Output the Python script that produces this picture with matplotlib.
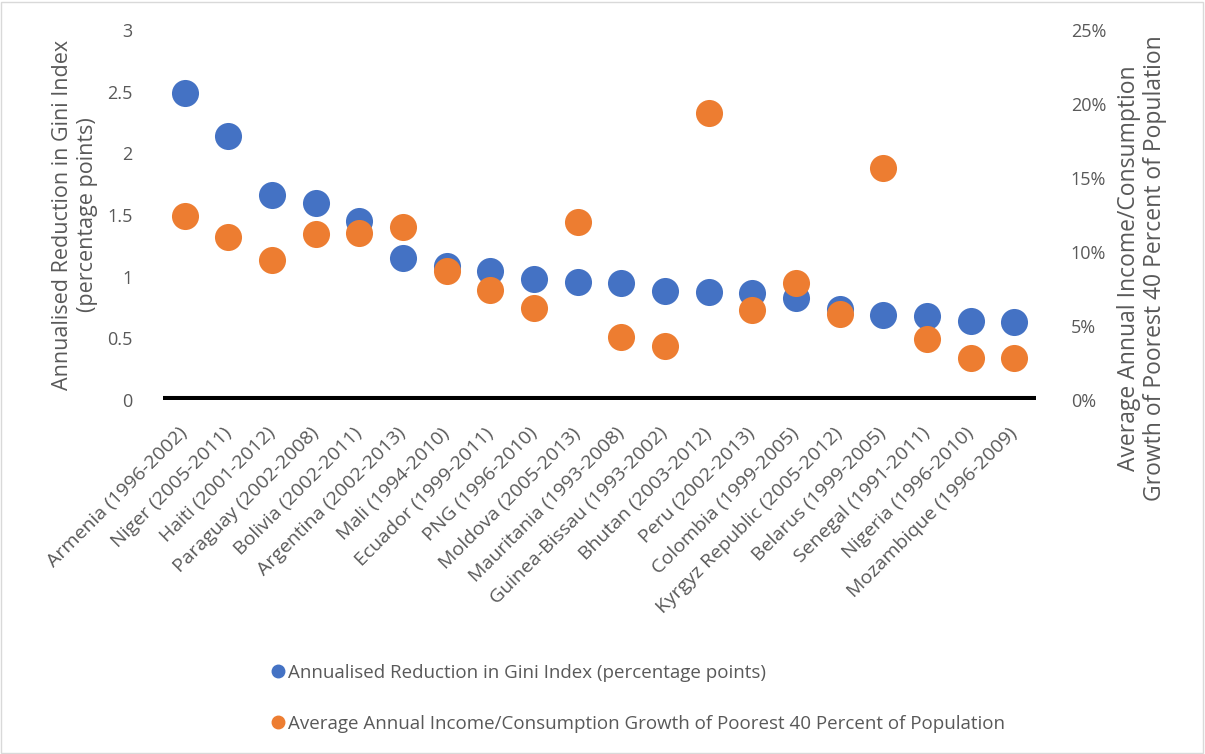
import matplotlib
matplotlib.use("Agg")
import matplotlib.pyplot as plt
from matplotlib.lines import Line2D
from matplotlib.patches import Rectangle

countries = ["Armenia (1996-2002)", "Niger (2005-2011)", "Haiti (2001-2012)",
             "Paraguay (2002-2008)", "Bolivia (2002-2011)", "Argentina (2002-2013)",
             "Mali (1994-2010)", "Ecuador (1999-2011)", "PNG (1996-2010)",
             "Moldova (2005-2013)", "Mauritania (1993-2008)", "Guinea-Bissau (1993-2002)",
             "Bhutan (2003-2012)", "Peru (2002-2013)", "Colombia (1999-2005)",
             "Kyrgyz Republic (2005-2012)", "Belarus (1999-2005)", "Senegal (1991-2011)",
             "Nigeria (1996-2010)", "Mozambique (1996-2009)"]
gini_reduction = [2.49, 2.14, 1.66, 1.60, 1.45, 1.15, 1.09, 1.05, 0.98, 0.955,
                  0.946, 0.884, 0.873, 0.87, 0.825, 0.74, 0.687, 0.68, 0.64, 0.635]
income_growth = [12.45, 11.03, 9.46, 11.2, 11.3, 11.69, 8.69, 7.43, 6.19, 12.05,
                 4.23, 3.65, 19.37, 6.06, 7.93, 5.79, 15.7, 4.12, 2.82, 2.82]
left_ticks = [0, 0.5, 1, 1.5, 2, 2.5, 3]
right_ticks = [0, 5, 10, 15, 20, 25]

label1 = "Annualised Reduction in Gini Index (percentage points)"
label2 = "Average Annual Income/Consumption Growth of Poorest 40 Percent of Population"

blue = "#4472C4"
orange = "#ED7D31"
gray = "#595959"
plt.rcParams['font.family'] = ['Open Sans', 'DejaVu Sans']

W, H = 1205, 754
fig = plt.figure(figsize=(W / 100, H / 100), dpi=100)
ax = fig.add_axes([163 / W, 1 - 400 / H, (1036 - 163) / W, (400 - 30) / H])
ax2 = ax.twinx()

x = list(range(len(countries)))
ax.scatter(x, gini_reduction, s=380, color=blue, zorder=3, linewidths=0)
ax2.scatter(x, income_growth, s=380, color=orange, zorder=3, linewidths=0)
ax.axhline(0, color="black", lw=5.8, zorder=2, solid_capstyle="butt")

ax.set_xlim(-0.5, len(countries) - 0.5)
ax.set_ylim(0, 3)
ax2.set_ylim(0, 25)
ax.set_yticks(left_ticks)
ax.set_yticklabels([f"{t:g}" for t in left_ticks])
ax2.set_yticks(right_ticks)
ax2.set_yticklabels([f"{t}%" for t in right_ticks])

ax.set_xticks(x)
ax.set_xticklabels(countries, rotation=45, ha="right", va="center",
                   rotation_mode="anchor", fontsize=14, color=gray)

for a in (ax, ax2):
    for sp in a.spines.values():
        sp.set_visible(False)
ax.tick_params(axis="y", length=0, pad=22, labelsize=13, labelcolor=gray)
ax2.tick_params(axis="y", length=0, pad=25, labelsize=13, labelcolor=gray)
ax.tick_params(axis="x", length=0, pad=22)

fig.text(75 / W, 1 - 215 / H, "Annualised Reduction in Gini Index\n(percentage points)",
         rotation=90, ha="center", va="center", multialignment="center",
         fontsize=15.5, color=gray, linespacing=1.25)
fig.text(1142 / W, 1 - 268 / H,
         "Average Annual Income/Consumption\nGrowth of Poorest 40 Percent of Population",
         rotation=90, ha="center", va="center", multialignment="center",
         fontsize=16.5, color=gray, linespacing=1.1)

handles = [Line2D([], [], marker="o", ls="", color=blue, markersize=9),
           Line2D([], [], marker="o", ls="", color=orange, markersize=9)]
fig.legend(handles, [label1, label2], loc="upper left",
           bbox_to_anchor=(252 / W, 1 - 647 / H), frameon=False,
           handletextpad=0.0, handlelength=1.0, labelspacing=1.75,
           prop={"size": 13.5}, labelcolor=gray)

fig.patches.append(Rectangle((0.001, 0.001), 0.997, 0.997, transform=fig.transFigure,
                             fill=False, edgecolor="#D9D9D9", lw=1))

fig.savefig("out.png", dpi=100)
